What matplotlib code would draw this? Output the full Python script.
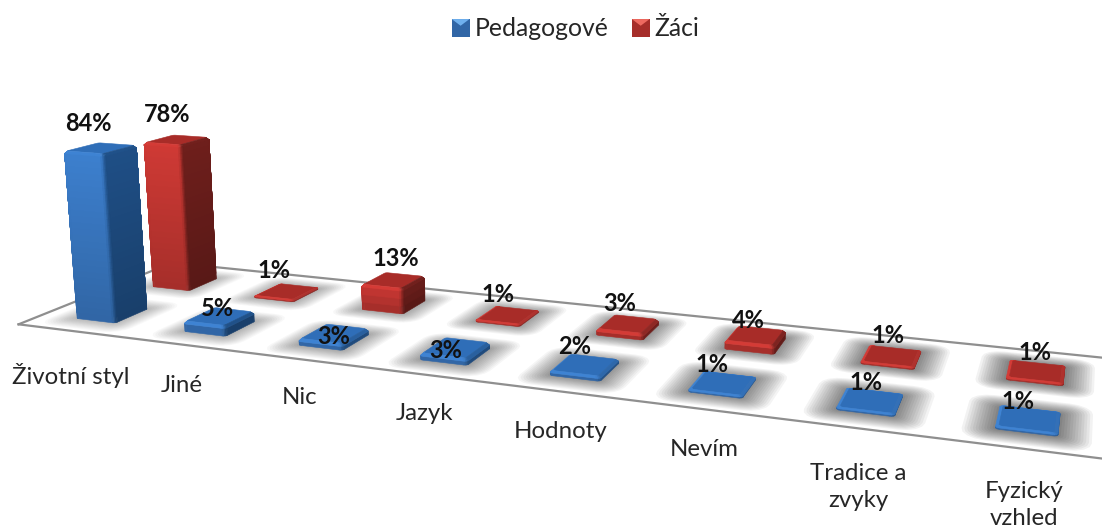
import numpy as np
import matplotlib
matplotlib.use('Agg')
import matplotlib.pyplot as plt
from matplotlib.colors import to_hex, to_rgb
from matplotlib.legend_handler import HandlerBase
from matplotlib.patches import Patch, Polygon, Rectangle
from mpl_toolkits.mplot3d import proj3d
from mpl_toolkits.mplot3d.art3d import Poly3DCollection

plt.rcParams['font.family'] = ['Lato', 'DejaVu Sans']

kategorie = ['Životní styl', 'Jiné', 'Nic', 'Jazyk', 'Hodnoty', 'Nevím', 'Tradice a\nzvyky', 'Fyzický\nvzhled']
pedagogove = [84, 5, 3, 3, 2, 1, 1, 1]
zaci = [78, 1, 13, 1, 3, 4, 1, 1]

# stred popisku kategorie v pixelech
kategorie_px = [(71, 375), (182, 385), (300, 397), (425, 414), (561, 431), (704, 449), (858, 487), (1024, 505)]
# posun popisku hodnoty od vrchu sloupce v pixelech
posun_ped = [(-12, -25), (-2, -8), (0, 3), (-10, 3), (-10, -18), (-11, -19), (-4, -18), (-10, -17)]
posun_zaci = [(-10, -25), (-13, -21), (2, -22), (-9, -20), (-8, -20), (-7, -15), (-3, -20), (-1, -19)]

W, H = 1102, 531
ELEV, AZIM, FOCAL = 13.3749, -69.4821, 0.2485
ASPECT = (1, 0.2591, 0.1997)
Y_PED, Y_ZACI = 0.2459, 0.7376
BAR_W, BAR_D = 0.375, 0.21
RX = 0.028
RY = RX * 0.125 / ASPECT[1]

# barvy: predni stena, bocni stena, vrch
MODRA = ('#3d80cf', '#1f4f86', '#2f6eb8')
CERVENA = ('#d03a35', '#6f1f1c', '#a82c28')
KLIN = {MODRA[0]: '#6fb0ee', CERVENA[0]: '#ee6a60'}

fig = plt.figure(figsize=(W / 100, H / 100), dpi=100)
k, cx, cy = 5966.3, 544.7, 237.6
strana = k * 0.185
ax = fig.add_axes([(cx - k * 0.095) / W, (H - (cy - k * 0.09 + strana)) / H, strana / W, strana / H], projection='3d')
ax.set_xlim(0, 8)
ax.set_ylim(0, 1)
ax.set_zlim(0, 100)
ax.view_init(elev=ELEV, azim=AZIM)
ax.set_proj_type('persp', focal_length=FOCAL)
ax.set_box_aspect(ASPECT)
ax.set_axis_off()
ax.patch.set_alpha(0)
ax.computed_zorder = False
M = ax.get_proj()


def mix(a, b, t):
    return np.array(to_rgb(a)) * (1 - t) + np.array(to_rgb(b)) * t


def obrys(x0, y0, w, d, rx, ry, n=4):
    # zaobleny obdelnik na podlaze, proti smeru hodinovych rucicek od predniho leveho rohu
    rohy = [(x0 + rx, y0 + ry, 180), (x0 + w - rx, y0 + ry, 270), (x0 + w - rx, y0 + d - ry, 0), (x0 + rx, y0 + d - ry, 90)]
    body = []
    for qx, qy, a0 in rohy:
        for a in np.radians(np.linspace(a0, a0 + 90, n + 1)):
            body.append((qx + rx * np.cos(a), qy + ry * np.sin(a)))
    return body


def viditelna(ctyruhelnik):
    p = np.array(ctyruhelnik)
    X, Y, _ = proj3d.proj_transform(p[:, 0], p[:, 1], p[:, 2], M)
    X, Y = np.asarray(X), np.asarray(Y)
    return np.sum(X * np.roll(Y, -1) - np.roll(X, -1) * Y) > 0


def steny(obrys_a, za, obrys_b, zb, barvy, h, z_barva, faktor=1.0):
    polys, cols = [], []
    ztmaveni = min(1, 0.2 + h / 6)
    for j in range(len(obrys_a)):
        a1, a2 = obrys_a[j], obrys_a[(j + 1) % len(obrys_a)]
        b1, b2 = obrys_b[j], obrys_b[(j + 1) % len(obrys_b)]
        quad = [(a1[0], a1[1], za), (a2[0], a2[1], za), (b2[0], b2[1], zb), (b1[0], b1[1], zb)]
        if not viditelna(quad):
            continue
        dx, dy = (a2[0] - a1[0]) * ASPECT[0] / 8, (a2[1] - a1[1]) * ASPECT[1]
        nx = dy / max(np.hypot(dx, dy), 1e-9)
        t = np.clip(nx, 0, 1) ** 1.2 * ztmaveni
        gradient = 0.80 + 0.20 * (z_barva / h)
        c = mix(barvy[0], barvy[1], t) * gradient * faktor
        polys.append(quad)
        cols.append(np.clip(c, 0, 1))
    return polys, cols


def pridej(polys, cols, zorder):
    cols = np.array(cols)
    ax.add_collection3d(Poly3DCollection(polys, facecolors=cols, edgecolors=cols, linewidths=0.4, zorder=zorder, clip_on=False))


def sloupec(i, y, h, barvy, zorder):
    x0 = i + 0.5 - BAR_W / 2
    y0 = y - BAR_D / 2
    # mekky stin na podlaze
    sila = 0.022 + 0.03 * i / 7
    for j in range(12, 0, -1):
        e = j / 12
        o = obrys(x0 - 0.2 * e, y0 - 0.11 * e, BAR_W + 0.4 * e, BAR_D + 0.22 * e, RX + 0.12 * e, RY + 0.07 * e)
        stin = Poly3DCollection([[(a, b, 0) for a, b in o]], facecolors=[(0, 0, 0, sila)], edgecolors='none', zorder=2, clip_on=False)
        ax.add_collection3d(stin)

    spodek = obrys(x0, y0, BAR_W, BAR_D, RX, RY)
    horni = obrys(x0 + RX * 0.7, y0 + RY * 0.7, BAR_W - 1.4 * RX, BAR_D - 1.4 * RY, RX * 0.8, RY * 0.8)
    zkoseni = min(0.4 * h, 1.2)
    # kazdy usek saha az k hornimu okraji a dalsi ho prekryje, prechod barvy je tak bez svetlych spar
    usek = max(1, int((h - zkoseni) / 3))
    urovne = np.linspace(0, h - zkoseni, usek + 1)
    for n, z1 in enumerate(urovne[:-1]):
        p, c = steny(spodek, z1, spodek, h - zkoseni, barvy, h, z1)
        pridej(p, c, zorder + n * 0.01)
    p, c = steny(spodek, h - zkoseni, horni, h, barvy, h, h, 1.02)
    p.append([(a, b, h) for a, b in horni])
    c.append(mix(barvy[2], barvy[2], 0))
    pridej(p, c, zorder + 0.9)


def popisek(i, y, h, posun):
    X, Y, _ = proj3d.proj_transform(i + 0.5, y, h, M)
    ax.annotate('%d%%' % h, xy=(X, Y), xycoords='data', xytext=(posun[0], -posun[1]), textcoords='offset pixels',
                ha='center', va='center', fontsize=17, fontweight='bold', color='#111111', zorder=100,
                annotation_clip=False)


# podlaha grafu, vpravo pokracuje za okraj obrazku
ax.plot([0, 0, 8.6], [0, 1, 1], [0, 0, 0], color='#8f8f8f', lw=1.6, zorder=1, clip_on=False)
ax.plot([0, 8.6], [0, 0], [0, 0], color='#8f8f8f', lw=1.6, zorder=1, clip_on=False)

for i in range(len(kategorie)):
    sloupec(i, Y_ZACI, zaci[i], CERVENA, 10 + i)
    popisek(i, Y_ZACI, zaci[i], posun_zaci[i])
for i in range(len(kategorie)):
    sloupec(i, Y_PED, pedagogove[i], MODRA, 30 + i)
    popisek(i, Y_PED, pedagogove[i], posun_ped[i])

for nazev, (px, py) in zip(kategorie, kategorie_px):
    fig.text(px / W, 1 - py / H, nazev, ha='center', va='center', fontsize=17.3, color='#262626', linespacing=1.33)


class HandlerKostka(HandlerBase):
    # ctverecek legendy se svetlejsim klinem nahore
    def create_artists(self, legend, orig_handle, xdescent, ydescent, width, height, fontsize, trans):
        x0, y0 = -xdescent, -ydescent
        barva = to_hex(orig_handle.get_facecolor())
        zaklad = Rectangle((x0, y0), width, height, facecolor=mix(barva, '#000000', 0.2), edgecolor='none', transform=trans)
        klin = Polygon([(x0, y0 + height), (x0 + width, y0 + height), (x0 + width / 2, y0 + height * 0.62)],
                       facecolor=KLIN[barva], edgecolor='none', transform=trans)
        return [zaklad, klin]


ruce = [Patch(facecolor=MODRA[0]), Patch(facecolor=CERVENA[0])]
fig.legend(ruce, ['Pedagogové', 'Žáci'], ncol=2, loc='center', bbox_to_anchor=(575.5 / W, 1 - 29 / H), frameon=False,
           fontsize=17.8, labelcolor='#262626', handlelength=0.72, handleheight=0.72, handletextpad=0.2, columnspacing=0.95,
           handler_map={Patch: HandlerKostka()})

fig.savefig('out.png', dpi=100)
